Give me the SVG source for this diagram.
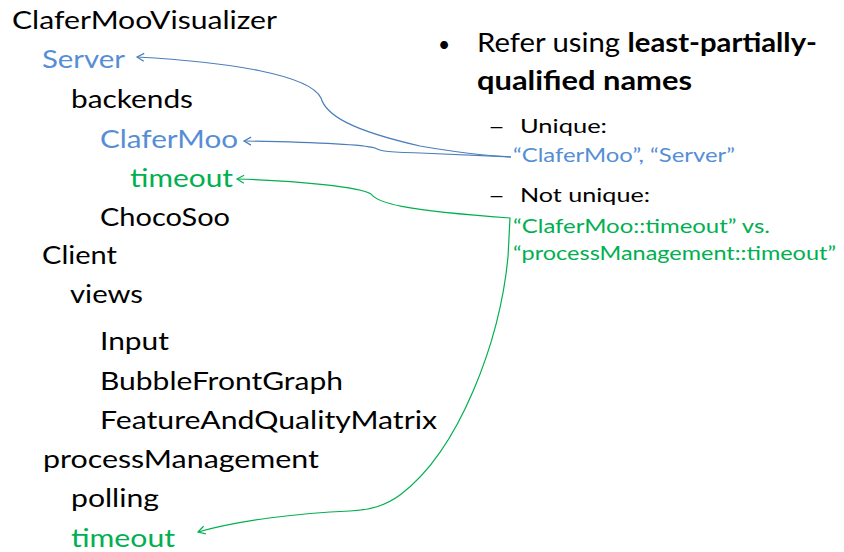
<svg xmlns="http://www.w3.org/2000/svg" width="844" height="552" viewBox="0 0 844 552">
  <style>
    text { font-family: Lato, "Open Sans", "Noto Sans", sans-serif; fill: #000; }
    .tree { font-size: 24.5px; }
    .blue { fill: #558ED5; }
    .green { fill: #00B050; }
    .main { font-size: 26.5px; }
    .sub { font-size: 18.5px; }
    .b { font-weight: bold; }
    .link { fill: none; stroke-width: 1.2; }
    .lb { stroke: #4A7EBB; }
    .lg { stroke: #00B050; }
  </style>
  <defs>
    <marker id="openBlue" viewBox="-10 -6 12 12" refX="0" refY="0" markerWidth="12" markerHeight="12" markerUnits="userSpaceOnUse" orient="auto-start-reverse" overflow="visible">
      <path d="M-7,-4 L0,0 L-7,4" fill="none" stroke="#4A7EBB" stroke-width="1.2"/>
    </marker>
    <marker id="openGreen" viewBox="-10 -6 12 12" refX="0" refY="0" markerWidth="12" markerHeight="12" markerUnits="userSpaceOnUse" orient="auto-start-reverse" overflow="visible">
      <path d="M-7,-4 L0,0 L-7,4" fill="none" stroke="#00B050" stroke-width="1.2"/>
    </marker>
  </defs>

  <!-- component tree -->
  <g id="tree" class="tree">
    <g id="n-visualizer"><text x="12" y="29" textLength="265" lengthAdjust="spacingAndGlyphs">ClaferMooVisualizer</text></g>
    <g id="n-server"><text class="blue" x="42" y="68" textLength="83" lengthAdjust="spacingAndGlyphs">Server</text></g>
    <g id="n-backends"><text x="71" y="108" textLength="122" lengthAdjust="spacingAndGlyphs">backends</text></g>
    <g id="n-clafermoo"><text class="blue" x="100" y="148" textLength="138" lengthAdjust="spacingAndGlyphs">ClaferMoo</text></g>
    <g id="n-timeout1"><text class="green" x="130" y="187" textLength="103" lengthAdjust="spacingAndGlyphs">timeout</text></g>
    <g id="n-chocosoo"><text x="100" y="226" textLength="130" lengthAdjust="spacingAndGlyphs">ChocoSoo</text></g>
    <g id="n-client"><text x="42" y="264" textLength="75" lengthAdjust="spacingAndGlyphs">Client</text></g>
    <g id="n-views"><text x="70" y="303" textLength="73" lengthAdjust="spacingAndGlyphs">views</text></g>
    <g id="n-input"><text x="100" y="350" textLength="69" lengthAdjust="spacingAndGlyphs">Input</text></g>
    <g id="n-bubble"><text x="100" y="390" textLength="243" lengthAdjust="spacingAndGlyphs">BubbleFrontGraph</text></g>
    <g id="n-matrix"><text x="100" y="429" textLength="337" lengthAdjust="spacingAndGlyphs">FeatureAndQualityMatrix</text></g>
    <g id="n-process"><text x="43" y="468" textLength="276" lengthAdjust="spacingAndGlyphs">processManagement</text></g>
    <g id="n-polling"><text x="71" y="507" textLength="88" lengthAdjust="spacingAndGlyphs">polling</text></g>
    <g id="n-timeout2"><text class="green" x="71" y="547" textLength="104" lengthAdjust="spacingAndGlyphs">timeout</text></g>
  </g>

  <!-- bullet notes -->
  <g id="notes">
    <text x="438" y="52" font-size="21">•</text>
    <text class="main" x="477" y="52" textLength="340" lengthAdjust="spacingAndGlyphs">Refer using <tspan class="b">least-partially-</tspan></text>
    <text class="main b" x="477" y="90" textLength="215" lengthAdjust="spacingAndGlyphs">qualified names</text>
    <text class="sub" x="488" y="133" textLength="17" lengthAdjust="spacingAndGlyphs">–</text>
    <text class="sub" x="520" y="133" textLength="87" lengthAdjust="spacingAndGlyphs">Unique:</text>
    <text class="sub blue" x="513" y="162" textLength="222" lengthAdjust="spacingAndGlyphs">“ClaferMoo”, “Server”</text>
    <text class="sub" x="488" y="202" textLength="17" lengthAdjust="spacingAndGlyphs">–</text>
    <text class="sub" x="520" y="202" textLength="130" lengthAdjust="spacingAndGlyphs">Not unique:</text>
    <text class="sub green" x="513" y="233" textLength="257" lengthAdjust="spacingAndGlyphs">“ClaferMoo::timeout” vs.</text>
    <text class="sub green" x="513" y="260" textLength="323" lengthAdjust="spacingAndGlyphs">“processManagement::timeout”</text>
  </g>

  <!-- reference connectors -->
  <g id="connectors">
    <path class="link lb" marker-start="url(#openBlue)" d="M137,57 C230,62 310,75 321,98 C326,115 350,130 420,146 C460,153 490,156 511,157"/>
    <path class="link lb" marker-start="url(#openBlue)" d="M244,141 C300,142 360,144 375,148 C380,151 385,152 420,153 L511,157"/>
    <path class="link lg" marker-start="url(#openGreen)" marker-end="url(#openGreen)" d="M237,179 C300,181 360,187 371,194 C378,203 400,210 510,218 L508,257 C500,340 460,450 400,495 C385,506 370,510 350,511 C300,513 240,520 198,532"/>
  </g>
</svg>
